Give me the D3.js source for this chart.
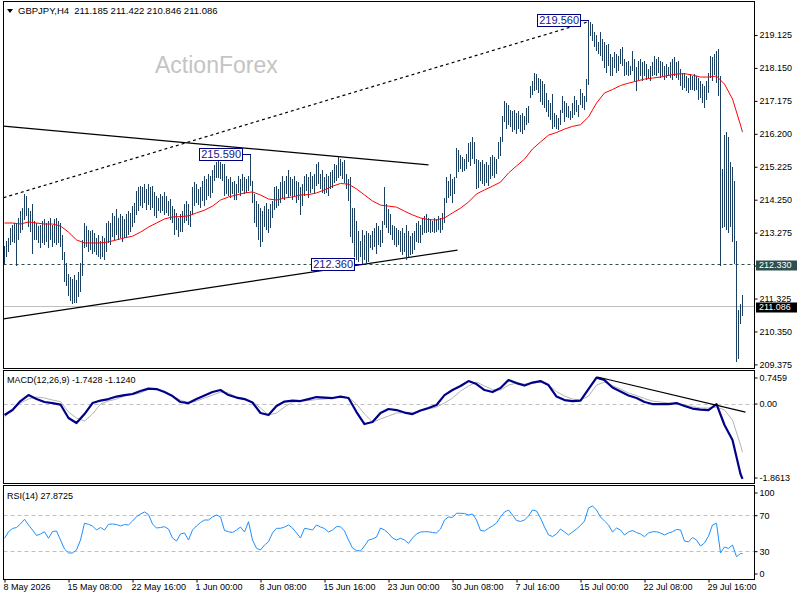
<!DOCTYPE html>
<html>
<head>
<meta charset="utf-8">
<script src="https://cdn.jsdelivr.net/npm/d3@7"></script>
<style>
	body { margin: 0; background: #fff; }
	svg { display: block; }
	text { font-family: "Liberation Sans", Arial, sans-serif; font-size: 9px; }
</style>
</head>
<body>
<svg id="chart" width="800" height="600"></svg>
<script>

// GBPJPY H4 bars, 8 May 2026 00:00 .. 3 Aug, one entry per bar
var highs = [
	212.85, 213.0, 213.1, 213.4, 213.5, 213.55, 213.55, 213.7, 213.9, 214.0,
	214.39, 214.35, 214.0, 213.9, 214.1, 213.6, 213.55, 213.45, 213.5, 213.6,
	213.65, 213.55, 213.6, 213.7, 213.5, 213.65, 213.7, 213.6, 213.55, 213.2,
	212.7, 212.35, 212.05, 211.95, 211.9, 212.0, 211.85, 212.1, 212.35, 213.05,
	213.55, 213.45, 213.35, 213.3, 213.35, 213.25, 213.1, 213.2, 213.0, 213.15,
	213.1, 213.55, 213.6, 213.55, 213.85, 213.75, 213.95, 213.7, 213.8, 213.75,
	213.65, 213.8, 213.9, 213.85, 214.05, 214.15, 214.5, 214.6, 214.65, 214.6,
	214.7, 214.55, 214.7, 214.6, 214.65, 214.45, 214.35, 214.3, 214.4, 214.35,
	214.45, 214.35, 214.2, 214.25, 214.05, 213.95, 213.85, 213.7, 213.8, 213.9,
	214.1, 214.2, 214.1, 213.9, 214.6, 214.75, 214.7, 214.55, 214.6, 214.8,
	214.95, 214.85, 215.0, 214.95, 215.1, 215.25, 215.35, 215.4, 215.35, 215.3,
	215.28, 214.95, 214.85, 214.9, 214.75, 214.8, 214.7, 214.95, 214.85, 215.0,
	214.9, 214.85, 214.95, 215.59, 214.8, 214.4, 214.2, 214.1, 214.0, 213.9,
	214.05, 214.15, 213.95, 214.1, 214.2, 214.6, 214.65, 214.55, 214.75, 214.95,
	214.8, 214.95, 215.1, 214.9, 214.85, 214.95, 214.8, 214.75, 214.6, 214.7,
	214.95, 215.0, 214.9, 215.05, 214.95, 215.0, 215.3, 215.35, 215.0, 215.1,
	214.9, 215.0, 214.95, 215.05, 215.1, 215.3, 215.25, 215.5, 215.45, 215.35,
	215.4, 215.0, 214.85, 214.9, 214.0, 214.0, 213.6, 213.3, 213.0, 213.35,
	213.2, 213.3, 213.25, 213.2, 213.3, 213.4, 213.55, 213.45, 213.35, 213.6,
	214.6, 214.1, 213.95, 213.8, 213.5, 213.45, 213.4, 213.35, 213.3, 213.4,
	213.25, 213.5, 213.3, 213.15, 213.25, 213.3, 213.55, 213.6, 213.5, 213.7,
	213.75, 213.8, 213.7, 213.65, 213.6, 213.7, 213.65, 213.75, 213.7, 213.85,
	214.3, 214.9, 214.8, 215.0, 214.85, 214.9, 215.78, 215.7, 215.55, 215.5,
	215.45, 215.6, 215.9, 215.95, 216.1, 215.95, 215.45, 215.4, 215.35, 215.4,
	215.3, 215.35, 215.25, 215.5, 215.55, 215.5, 215.45, 215.95, 216.1, 216.7,
	217.15, 217.1, 217.05, 216.9, 216.85, 216.9, 216.8, 216.85, 216.75, 216.8,
	216.7, 216.95, 217.0, 217.6, 217.75, 218.0, 217.95, 217.85, 217.8, 217.75,
	217.65, 217.4, 217.2, 217.1, 217.35, 216.8, 216.75, 216.65, 216.9, 217.3,
	217.15, 217.1, 217.0, 216.85, 217.1, 217.3, 217.2, 217.05, 217.5, 217.4,
	217.3, 217.8, 219.56, 219.5, 219.45, 219.2, 219.1, 218.9, 219.2, 219.0,
	218.9, 218.8, 218.85, 218.55, 218.45, 218.6, 218.55, 218.5, 218.7, 218.75,
	218.4, 218.3, 218.35, 218.2, 218.65, 218.4, 218.15, 218.35, 218.4, 218.3,
	218.35, 218.25, 218.1, 218.2, 218.3, 218.5, 218.4, 218.45, 218.35, 218.3,
	218.2, 218.25, 218.15, 218.3, 218.4, 218.45, 218.3, 218.35, 218.1, 218.0,
	218.0, 217.9, 217.85, 217.95, 217.9, 217.95, 217.9, 217.85, 217.75, 217.65,
	217.6, 217.75, 218.0, 218.5, 218.45, 218.55, 218.65, 218.7, 217.9, 215.13,
	216.15, 216.25, 216.1, 215.35, 215.2, 214.8, 213.0, 210.98, 211.15, 211.422
];

var lows = [
	212.40, 212.6, 212.75, 212.95, 213.05, 213.0, 212.33, 213.1, 213.3, 213.4,
	213.70, 213.8, 213.5, 213.35, 212.7, 213.1, 213.1, 213.0, 212.85, 213.0,
	212.95, 213.05, 212.85, 213.1, 212.9, 213.0, 212.95, 213.0, 212.9, 212.5,
	211.85, 211.75, 211.45, 211.3, 211.2, 211.25, 211.25, 211.4, 211.55, 212.05,
	212.85, 212.9, 212.75, 212.8, 212.7, 212.75, 212.65, 212.6, 212.55, 212.6,
	212.5, 212.75, 213.0, 212.95, 213.2, 213.1, 213.25, 213.1, 213.15, 213.05,
	213.15, 213.2, 213.25, 213.35, 213.5, 213.6, 213.85, 213.95, 214.1, 214.05,
	214.2, 214.0, 214.15, 214.0, 214.05, 213.8, 213.75, 213.95, 213.9, 213.95,
	213.85, 213.9, 213.8, 213.7, 213.6, 213.25, 213.4, 213.2, 213.35, 213.35,
	213.6, 213.65, 213.55, 213.5, 213.85, 214.1, 214.2, 214.15, 214.05, 214.25,
	214.1, 214.3, 214.4, 214.35, 214.5, 214.85, 214.95, 214.95, 214.9, 214.85,
	214.39, 214.45, 214.4, 214.35, 214.45, 214.3, 214.3, 214.5, 214.4, 214.55,
	214.45, 214.5, 214.55, 214.7, 214.2, 213.6, 213.5, 213.1, 212.9, 213.05,
	213.5, 213.4, 213.3, 213.45, 213.75, 214.0, 214.05, 214.1, 214.2, 214.35,
	214.3, 214.45, 214.35, 214.4, 214.3, 214.4, 214.2, 214.3, 213.85, 214.1,
	214.4, 214.55, 214.35, 214.5, 214.6, 214.45, 214.7, 214.75, 214.6, 214.5,
	214.45, 214.5, 214.4, 214.6, 214.65, 214.8, 214.85, 214.95, 215.0, 214.9,
	214.8, 214.6, 214.25, 213.2, 213.0, 212.6, 212.5, 212.45, 212.6, 212.36,
	212.5, 212.4, 212.45, 212.85, 212.8, 212.9, 212.7, 212.95, 212.9, 213.0,
	213.55, 213.45, 213.3, 213.25, 213.1, 212.95, 212.9, 212.95, 212.75, 212.65,
	212.75, 212.5, 212.6, 212.65, 212.7, 212.8, 213.05, 213.0, 213.0, 213.25,
	213.3, 213.3, 213.35, 213.3, 213.35, 213.3, 213.35, 213.4, 213.3, 213.4,
	213.6, 214.2, 214.35, 214.4, 214.2, 214.45, 214.95, 215.1, 215.2, 215.1,
	215.15, 215.2, 215.4, 215.3, 215.5, 215.35, 214.6, 214.65, 214.85, 214.75,
	214.7, 214.8, 214.7, 214.9, 215.0, 214.95, 215.05, 215.5, 215.6, 216.0,
	216.6, 216.4, 216.5, 216.45, 216.3, 216.35, 216.25, 216.4, 216.3, 216.25,
	216.35, 216.5, 216.55, 217.3, 217.4, 217.5, 217.55, 217.45, 217.2, 217.1,
	217.0, 216.9, 216.75, 216.65, 216.4, 216.45, 216.4, 216.35, 216.5, 216.85,
	216.6, 216.75, 216.7, 216.65, 216.7, 216.8, 216.9, 216.75, 217.1, 217.0,
	216.95, 217.2, 217.7, 219.15, 219.0, 218.8, 218.7, 218.6, 218.55, 218.4,
	218.2, 218.05, 218.25, 217.95, 217.95, 218.2, 218.05, 218.1, 218.3, 218.25,
	217.95, 218.0, 217.95, 218.0, 218.1, 217.8, 217.5, 217.85, 217.95, 217.8,
	217.95, 217.85, 217.9, 217.8, 217.95, 218.0, 217.95, 218.05, 217.9, 217.95,
	217.85, 217.9, 217.95, 217.9, 217.85, 217.95, 217.9, 217.85, 217.65, 217.55,
	217.6, 217.5, 217.45, 217.55, 217.55, 217.5, 217.55, 217.25, 217.3, 217.15,
	217.0, 217.25, 217.45, 217.9, 217.8, 218.0, 217.75, 217.35, 212.33, 213.45,
	213.5, 213.4, 213.3, 213.5, 213.05, 212.4, 209.5, 209.58, 210.63, 210.846
];

// red moving average, read every 4th bar (last entry = last bar)
var maValues = [
	213.56, 213.56, 213.53, 213.59, 213.56, 213.53, 213.53, 213.47, 213.29, 213.06,
	212.97, 212.97, 212.97, 213.00, 213.06, 213.12, 213.17, 213.29, 213.44, 213.56,
	213.68, 213.74, 213.75, 213.77, 213.86, 213.94, 214.06, 214.24, 214.33, 214.39,
	214.45, 214.48, 214.39, 214.27, 214.24, 214.30, 214.33, 214.39, 214.40, 214.45,
	214.54, 214.65, 214.73, 214.71, 214.57, 214.39, 214.21, 214.09, 214.06, 214.03,
	213.91, 213.80, 213.71, 213.66, 213.65, 213.71, 213.86, 214.00, 214.18, 214.42,
	214.54, 214.65, 214.77, 215.04, 215.25, 215.45, 215.75, 215.96, 216.16, 216.24,
	216.34, 216.42, 216.47, 216.70, 217.11, 217.41, 217.51, 217.63, 217.70, 217.76,
	217.82, 217.85, 217.88, 217.93, 217.97, 217.98, 217.94, 217.88, 217.88, 217.91,
	217.67, 217.23, 216.46, 216.25
];

// MACD(12,26,9), read every 4th bar
var macdMain = [
	-0.256, -0.140, 0.070, 0.209, 0.116, 0.047, 0.023, -0.012, -0.326, -0.442,
	-0.233, 0.023, 0.081, 0.116, 0.174, 0.209, 0.233, 0.302, 0.360, 0.349,
	0.279, 0.186, 0.047, 0.023, 0.116, 0.198, 0.279, 0.326, 0.209, 0.151,
	0.116, 0.035, -0.209, -0.256, -0.047, 0.058, 0.081, 0.070, 0.116, 0.163,
	0.151, 0.140, 0.174, 0.140, -0.186, -0.465, -0.419, -0.209, -0.116, -0.140,
	-0.198, -0.233, -0.151, -0.093, -0.023, 0.209, 0.326, 0.419, 0.535, 0.465,
	0.326, 0.279, 0.372, 0.558, 0.488, 0.430, 0.500, 0.535, 0.442, 0.174,
	0.093, 0.070, 0.081, 0.349, 0.616, 0.558, 0.384, 0.291, 0.198, 0.140,
	0.047, 0.000, 0.000, 0.000, 0.023, -0.047, -0.105, -0.128, -0.140, 0.000,
	-0.488, -0.837, -1.628, -1.7428
];

var macdSignal = [
	-0.302, -0.140, 0.023, 0.116, 0.163, 0.140, 0.093, 0.058, -0.186, -0.326,
	-0.395, -0.233, 0.000, 0.070, 0.116, 0.186, 0.221, 0.256, 0.349, 0.349,
	0.291, 0.186, 0.093, 0.023, 0.070, 0.140, 0.209, 0.279, 0.256, 0.163,
	0.128, 0.047, -0.093, -0.256, -0.209, -0.070, 0.047, 0.070, 0.081, 0.105,
	0.116, 0.140, 0.163, 0.151, 0.000, -0.233, -0.419, -0.349, -0.279, -0.209,
	-0.198, -0.209, -0.163, -0.116, -0.070, 0.023, 0.140, 0.302, 0.419, 0.512,
	0.419, 0.337, 0.326, 0.442, 0.488, 0.465, 0.488, 0.512, 0.442, 0.291,
	0.186, 0.116, 0.093, 0.186, 0.442, 0.512, 0.430, 0.349, 0.256, 0.198,
	0.128, 0.070, 0.047, 0.023, 0.000, -0.023, -0.058, -0.093, -0.093, -0.070,
	-0.140, -0.372, -0.953, -1.124
];

// RSI(14), read every 2nd bar
var rsiValues = [
	44.9, 52.2, 55.8, 56.9, 60.8, 66.0, 59.7, 54.1, 48.0, 49.7,
	52.2, 44.9, 52.4, 53.0, 43.0, 33.0, 28.6, 28.6, 31.9, 43.0,
	61.6, 60.4, 58.6, 54.1, 56.9, 54.1, 60.4, 60.8, 60.2, 58.6,
	60.2, 59.7, 64.1, 68.9, 71.9, 74.1, 71.3, 60.8, 56.3, 56.9,
	57.8, 55.2, 45.2, 41.9, 49.7, 50.8, 43.0, 54.1, 58.6, 62.4,
	65.2, 65.2, 68.6, 70.8, 68.6, 53.6, 52.2, 51.3, 54.1, 57.4,
	51.9, 63.3, 43.0, 33.8, 31.9, 37.4, 41.1, 50.8, 56.0, 56.0,
	57.4, 59.7, 56.3, 50.8, 45.2, 56.0, 55.2, 54.1, 59.7, 57.4,
	55.8, 51.9, 54.1, 57.8, 57.8, 53.0, 43.0, 34.1, 31.3, 30.8,
	36.3, 43.0, 44.1, 46.3, 56.3, 54.1, 50.4, 45.2, 43.0, 44.9,
	43.0, 39.3, 45.2, 49.7, 51.9, 52.2, 52.2, 51.3, 50.8, 55.2,
	65.2, 68.6, 68.0, 72.7, 72.7, 72.4, 70.8, 71.9, 65.2, 53.6,
	53.0, 56.0, 58.6, 61.9, 68.6, 74.1, 76.3, 70.8, 64.7, 63.6,
	65.2, 69.7, 76.3, 75.2, 67.4, 57.4, 48.6, 46.9, 49.7, 55.2,
	51.9, 48.6, 51.9, 55.2, 59.1, 64.1, 78.6, 80.8, 76.3, 68.6,
	64.1, 59.7, 51.9, 56.3, 54.1, 48.6, 51.9, 53.6, 51.3, 49.7,
	46.7, 50.8, 52.2, 52.2, 50.8, 48.6, 50.8, 52.2, 54.7, 54.1,
	41.9, 40.8, 45.8, 43.0, 36.3, 39.7, 47.4, 59.7, 61.6, 28.6,
	35.2, 33.6, 37.4, 24.4, 28.0, 27.8725
];

var priceTicks = [219.125, 218.150, 217.175, 216.200, 215.225, 214.250, 213.275, 212.300, 211.325, 210.350, 209.375];
var timeLabels = ["8 May 2026", "15 May 08:00", "22 May 16:00", "1 Jun 00:00", "8 Jun 08:00", "15 Jun 16:00",
	"23 Jun 00:00", "30 Jun 08:00", "7 Jul 16:00", "15 Jul 00:00", "22 Jul 08:00", "29 Jul 16:00"];
var lastQuote = [211.185, 211.422, 210.846, 211.086];
var macdTicks = [0.7459, 0, -1.8613],
	macdTickLabels = ["0.7459", "0.00", "-1.8613"],
	macdLast = [-1.7428, -1.1240];
var rsiTicks = [100, 70, 30, 0],
	rsiLevels = [70, 30],
	rsiLast = 27.8725;

// chart objects: swing labels, horizontal levels, trend lines (bar, value)
var swingLabels = [
	{bar: 123, price: 215.590},
	{bar: 179, price: 212.360},
	{bar: 292, price: 219.560}
];
var supportLevel = 212.330;
var trendLines = [
	{a: [-0.5, 216.43], b: [212, 215.28], dash: null},
	{a: [-0.5, 214.31], b: [291.5, 219.51], dash: "3,3"},
	{a: [-0.5, 210.72], b: [226.5, 212.76], dash: null}
];
var macdTrend = {a: [296.5, 0.63], b: [370.5, -0.19]};


var barsPerLabel = 32,
	maStep = 4,
	macdStep = 4,
	rsiStep = 2,
	lastBar = highs.length - 1;

var left = 3.5,
	right = 754.5,
	mainTop = 1.5, mainBottom = 368.5,
	macdTop = 370.5, macdBottom = 483.5,
	rsiTop = 485.5, rsiBottom = 579.5;

var barColor = "#1b4062";

var svg = d3.select("#chart");

var x = d3.scaleLinear().domain([0, lastBar]).range([4.5, 4.5 + 2 * lastBar]);
var yPrice = d3.scaleLinear().domain([209.375, 219.125]).range([364.4, 35]);
var yMacd = d3.scaleLinear().domain([-1.8613, 0.7459]).range([484, 372]);
var yRsi = d3.scaleLinear().domain([0, 100]).range([578.7, 488.7]);

function sampleBar(k, n, step) {
	return k === n - 1 ? lastBar : k * step;
}

function crisp(v) {
	return Math.round(v - 0.5) + 0.5;
}

function clip(id, top, bottom) {
	svg.append("clipPath")
	.attr("id", id)
	.append("rect")
	.attr("x", left)
	.attr("y", top)
	.attr("width", right - left)
	.attr("height", bottom - top);
	return "url(#" + id + ")";
}

var mainClip = clip("clipMain", mainTop, mainBottom),
	macdClip = clip("clipMacd", macdTop, macdBottom),
	rsiClip = clip("clipRsi", rsiTop, rsiBottom);


// ---------- main panel ----------

svg.append("text")
.text("ActionForex")
.attr("x", 155)
.attr("y", 73)
.style("font-size", "23px")
.attr("fill", "#c4c4c4");

var mainG = svg.append("g").attr("clip-path", mainClip);

mainG.append("line")
.attr("x1", left).attr("x2", right)
.attr("y1", crisp(yPrice(lastQuote[3]))).attr("y2", crisp(yPrice(lastQuote[3])))
.attr("stroke", "#c0c0c0");

mainG.append("line")
.attr("x1", left).attr("x2", right)
.attr("y1", crisp(yPrice(supportLevel))).attr("y2", crisp(yPrice(supportLevel)))
.attr("stroke", "#2f4f4f")
.attr("stroke-dasharray", "3,3");

mainG.selectAll("line.trend")
.data(trendLines)
.enter()
.append("line")
.attr("class", "trend")
.attr("x1", function (d) { return x(d.a[0]); })
.attr("y1", function (d) { return yPrice(d.a[1]); })
.attr("x2", function (d) { return x(d.b[0]); })
.attr("y2", function (d) { return yPrice(d.b[1]); })
.attr("stroke", "#000")
.attr("stroke-width", 1.2)
.attr("stroke-dasharray", function (d) { return d.dash; });

mainG.selectAll("line.bar")
.data(highs)
.enter()
.append("line")
.attr("class", "bar")
.attr("x1", function (d, i) { return x(i); })
.attr("x2", function (d, i) { return x(i); })
.attr("y1", function (d) { return Math.floor(yPrice(d)); })
.attr("y2", function (d, i) { return Math.ceil(yPrice(lows[i])) + 1; })
.attr("stroke", barColor)
.attr("stroke-width", 1)
.attr("shape-rendering", "crispEdges");

mainG.append("path")
.datum(maValues)
.attr("d", d3.line()
	.x(function (d, k) { return x(sampleBar(k, maValues.length, maStep)); })
	.y(function (d) { return yPrice(d); }))
.attr("fill", "none")
.attr("stroke", "#ff0000")
.attr("stroke-width", 1);

// swing labels with a connector to their bar
var labelG = svg.selectAll("g.swing")
.data(swingLabels)
.enter()
.append("g")
.attr("class", "swing");

labelG.append("text")
.text(function (d) { return d.price.toFixed(3); })
.style("font-size", "11px")
.attr("fill", "#14148c")
.attr("dy", "0.36em")
.attr("y", function (d) { return yPrice(d.price); });

labelG.each(function (d) {
	var g = d3.select(this),
		t = g.select("text"),
		w = t.node().getComputedTextLength(),
		bx = x(d.bar),
		xr = Math.round(bx - 9) + 0.5,
		xl = xr - w - 3,
		yc = Math.round(yPrice(d.price)) + 0.5;

	t.attr("x", xl + 1.5);

	g.insert("rect", "text")
	.attr("x", xl)
	.attr("y", yc - 6)
	.attr("width", w + 3)
	.attr("height", 12)
	.attr("fill", "#fff")
	.attr("stroke", "#000080")
	.attr("shape-rendering", "crispEdges");

	g.append("line")
	.attr("x1", xr).attr("x2", bx)
	.attr("y1", yc).attr("y2", yc)
	.attr("stroke", "#000080")
	.attr("shape-rendering", "crispEdges");
});

svg.append("g")
.attr("class", "axis price")
.attr("transform", "translate(" + right + ",0)")
.call(d3.axisRight(yPrice)
	.tickValues(priceTicks)
	.tickFormat(d3.format(".3f"))
	.tickSize(3)
	.tickPadding(2)
	.tickSizeOuter(0))
.call(function (g) { g.select(".domain").remove(); });

// level markers on the price scale
var markers = [
	{price: supportLevel, fill: "#2f4f4f"},
	{price: lastQuote[3], fill: "#000"}
];

var markerG = svg.selectAll("g.marker")
.data(markers)
.enter()
.append("g")
.attr("class", "marker")
.attr("transform", function (d) { return "translate(0," + Math.round(yPrice(d.price)) + ")"; });

markerG.append("rect")
.attr("x", 756)
.attr("y", -4.5)
.attr("width", 41)
.attr("height", 10)
.attr("fill", function (d) { return d.fill; });

markerG.append("text")
.text(function (d) { return d.price.toFixed(3); })
.attr("x", 759)
.attr("dy", "0.38em")
.attr("fill", "#fff");

svg.append("path")
.attr("d", "M7,9L13,9L10,13Z")
.attr("fill", "#000");

svg.append("text")
.attr("x", 18)
.attr("y", 14)
.style("white-space", "pre")
.style("font-size", "9.5px")
.text("GBPJPY,H4  " + lastQuote.map(function (v) { return v.toFixed(3); }).join(" "));


// ---------- MACD panel ----------

function panelAxis(scale, ticks, labels, top, bottom, cls) {
	svg.append("g")
	.attr("class", "axis " + cls)
	.attr("transform", "translate(" + right + ",0)")
	.call(d3.axisRight(scale)
		.tickValues(ticks)
		.tickFormat(function (d, i) { return labels[i]; })
		.tickSize(3)
		.tickPadding(2)
		.tickSizeOuter(0))
	.call(function (g) { g.select(".domain").remove(); })
	.selectAll(".tick")
	.attr("transform", function (d) {
		var y = Math.max(top + 7.5, Math.min(bottom - 5.5, scale(d)));
		return "translate(0," + y + ")";
	});
}

var macdG = svg.append("g").attr("clip-path", macdClip);

macdG.append("line")
.attr("x1", left).attr("x2", right)
.attr("y1", crisp(yMacd(0))).attr("y2", crisp(yMacd(0)))
.attr("stroke", "#c0c0c0")
.attr("stroke-dasharray", "4,3");

macdG.append("path")
.datum(macdSignal)
.attr("d", d3.line()
	.x(function (d, k) { return x(sampleBar(k, macdSignal.length, macdStep)); })
	.y(function (d) { return yMacd(d); }))
.attr("fill", "none")
.attr("stroke", "#b4b4b4")
.attr("stroke-width", 1);

macdG.append("path")
.datum(macdMain)
.attr("d", d3.line()
	.x(function (d, k) { return x(sampleBar(k, macdMain.length, macdStep)); })
	.y(function (d) { return yMacd(d); }))
.attr("fill", "none")
.attr("stroke", "#00008b")
.attr("stroke-width", 2.2)
.attr("stroke-linejoin", "round");

macdG.append("line")
.attr("x1", x(macdTrend.a[0])).attr("y1", yMacd(macdTrend.a[1]))
.attr("x2", x(macdTrend.b[0])).attr("y2", yMacd(macdTrend.b[1]))
.attr("stroke", "#000")
.attr("stroke-width", 1.2);

panelAxis(yMacd, macdTicks, macdTickLabels, macdTop, macdBottom, "macd");

svg.append("text")
.attr("x", 7)
.attr("y", 383)
.text("MACD(12,26,9) " + macdLast.map(function (v) { return v.toFixed(4); }).join(" "));


// ---------- RSI panel ----------

var rsiG = svg.append("g").attr("clip-path", rsiClip);

rsiG.selectAll("line.level")
.data(rsiLevels)
.enter()
.append("line")
.attr("class", "level")
.attr("x1", left).attr("x2", right)
.attr("y1", function (d) { return crisp(yRsi(d)); })
.attr("y2", function (d) { return crisp(yRsi(d)); })
.attr("stroke", "#c0c0c0")
.attr("stroke-dasharray", "4,3");

rsiG.append("path")
.datum(rsiValues)
.attr("d", d3.line()
	.x(function (d, k) { return x(sampleBar(k, rsiValues.length, rsiStep)); })
	.y(function (d) { return yRsi(d); }))
.attr("fill", "none")
.attr("stroke", "#1e90ff")
.attr("stroke-width", 1);

panelAxis(yRsi, rsiTicks, rsiTicks.map(String), rsiTop, rsiBottom, "rsi");

svg.append("text")
.attr("x", 7)
.attr("y", 499)
.text("RSI(14) " + rsiLast.toFixed(4));


// ---------- frames and time axis ----------

svg.selectAll("rect.frame")
.data([[mainTop, mainBottom], [macdTop, macdBottom], [rsiTop, rsiBottom]])
.enter()
.append("rect")
.attr("class", "frame")
.attr("x", left)
.attr("y", function (d) { return d[0]; })
.attr("width", right - left)
.attr("height", function (d) { return d[1] - d[0]; })
.attr("fill", "none")
.attr("stroke", "#000")
.attr("shape-rendering", "crispEdges");

svg.append("g")
.attr("class", "axis time")
.attr("transform", "translate(0," + rsiBottom + ")")
.call(d3.axisBottom(x)
	.tickValues(timeLabels.map(function (d, k) { return k * barsPerLabel; }))
	.tickFormat(function (d, i) { return timeLabels[i]; })
	.tickSize(3)
	.tickPadding(1)
	.tickSizeOuter(0))
.call(function (g) { g.select(".domain").remove(); })
.selectAll("text")
.attr("text-anchor", "start")
.attr("x", -1.5);

</script>
</body>
</html>
